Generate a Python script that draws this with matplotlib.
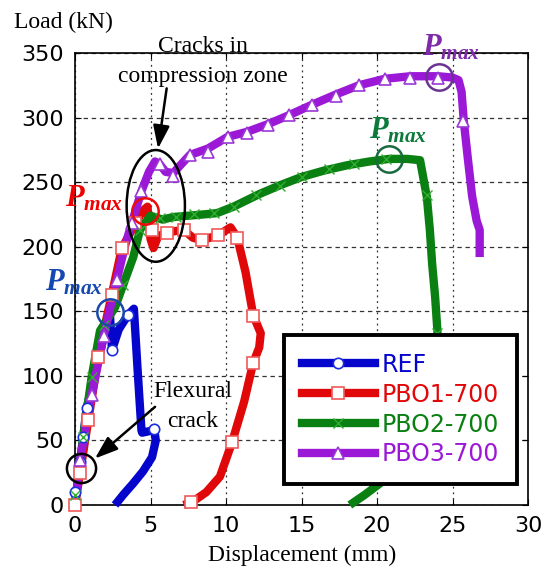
import matplotlib
matplotlib.use('Agg')
import matplotlib.pyplot as plt
from matplotlib.lines import Line2D
from matplotlib.patches import Ellipse

plt.rcParams['mathtext.fontset'] = 'custom'
plt.rcParams['mathtext.it'] = 'Liberation Serif:italic:bold'
plt.rcParams['mathtext.rm'] = 'Liberation Serif:bold'

# ---------------- data ----------------
series_names = ['REF', 'PBO1-700', 'PBO2-700', 'PBO3-700']

ref_x = [0, 0.33, 0.55, 0.77, 1.5, 2.0, 2.3, 2.45, 2.9, 3.5, 3.9, 4.15, 4.4, 4.45, 5.25, 5.35, 5.1, 4.5, 3.86, 3.2, 2.65]
ref_y = [0, 33, 53, 75, 110, 135, 150, 120, 136, 147, 152, 104, 58, 56, 58, 50, 37, 26, 16.8, 8, 0]
ref_mx = [0, 0.33, 0.55, 0.77, 2.43, 3.5, 5.2]
ref_my = [10, 33.5, 53, 75, 120, 147, 59]

pbo1_x = [0, 0.33, 0.88, 1.55, 2.0, 2.43, 3.1, 4.0, 4.5, 4.8, 5.0, 5.2, 5.5, 6.1, 6.6, 7.2, 7.8, 8.4, 9.5, 10.3, 10.75,
          11.3, 11.8, 12.3, 12.2, 11.8, 11.2, 10.4, 9.6, 8.7, 7.8, 7.2]
pbo1_y = [0, 24.5, 65.8, 114.8, 140, 162.5, 198.7, 218, 228, 231, 206, 199, 208, 211, 212, 213, 207, 205, 209, 215, 207,
          180, 147, 133, 122, 110, 80, 48.5, 22, 10, 2.6, 0]
pbo1_mx = [0, 0.3, 0.88, 1.55, 2.43, 3.1, 4.0, 5.1, 6.1, 7.2, 8.4, 9.5, 10.75, 11.8, 11.8, 10.4, 7.7]
pbo1_my = [0, 24.5, 65.8, 114.8, 162.5, 198.7, 218, 213, 211, 213, 205, 209, 207, 146.3, 110, 48.5, 2.6]

pbo2_x = [0, 0.55, 1.1, 1.66, 2.65, 3.3, 3.86, 4.3, 5.0, 5.8, 6.5, 7.5, 8.5, 9.4, 10.5, 12.25, 13.6, 15.0, 16.5, 18.0,
          19.5, 20.8, 22.0, 22.85, 23.3, 23.5, 23.65, 23.85, 24.0, 24.0, 23.7, 23.0, 22.0, 21.0, 20.2, 19.2, 18.2]
pbo2_y = [0, 53, 99, 135, 153, 174, 192, 213, 224, 221, 223, 224, 225, 226, 231, 241, 247.7, 254, 259, 263,
          266, 268, 268, 267, 238.6, 213, 187, 161, 135, 110, 85, 60, 40, 26, 16.8, 8, 0]
pbo2_mx = [0, 0.55, 1.1, 1.9, 3.2, 4.3, 5.6, 6.7, 7.9, 9.2, 10.5, 12.0, 13.6, 15.0, 16.8, 18.5, 20.6, 23.3, 24.0]
pbo2_my = [8, 53, 99, 139, 170, 213, 222, 223, 225, 226, 231, 240, 247, 254, 260, 264, 268, 240, 133]

pbo3_x = [0, 0.33, 1.1, 1.9, 2.76, 3.3, 3.75, 4.4, 4.9, 5.3, 5.6, 6.0, 6.5, 7.6, 8.8, 10.1, 11.4, 12.8, 14.2, 15.7,
          17.3, 18.8, 20.5, 22.2, 24.06, 25.0, 25.4, 25.6, 25.75, 26.0, 26.3, 26.6, 26.8, 26.8]
pbo3_y = [0, 34.8, 85, 131, 174, 200, 218, 243, 258, 266, 264, 258, 257, 271, 276, 285, 289, 295, 302, 310,
          318, 325, 330, 332, 332, 331, 329, 320, 297, 270, 239, 220, 213, 192]
pbo3_mx = [0.33, 1.1, 1.9, 2.76, 3.75, 4.4, 5.6, 6.5, 7.6, 8.8, 10.1, 11.4, 12.8, 14.2, 15.7, 17.3, 18.8, 20.5, 22.2,
           24.06, 25.7]
pbo3_my = [34.8, 85, 131, 174, 218, 243, 264, 255, 271, 273, 285, 288, 294, 302, 309.6, 317, 325, 330, 331, 331, 297]

pmax_x = [2.3, 4.64, 20.8, 24.1]
pmax_y = [149.6, 228, 267.6, 331.5]

x_ticks = [0, 5, 10, 15, 20, 25, 30]
y_ticks = [0, 50, 100, 150, 200, 250, 300, 350]

# ---------------- style ----------------
colors = ['#0505cc', '#e00808', '#0a7f12', '#9a18d6']
mec = ['#1a2ee0', '#f05a5a', '#2fae2f', '#9a38d6']
markers = ['o', 's', 'x', '^']
msizes = [7.5, 9, 7, 8.5]
pmax_text_col = ['#1548b0', '#f00000', '#0b7a3a', '#7e2aaa']
pmax_circ_col = ['#1a4aa8', '#ee0a0a', '#1a6a40', '#6a3590']

serif = 'Liberation Serif'
sans = 'DejaVu Sans'

fig = plt.figure(figsize=(5.5, 5.74), dpi=100)
ax = fig.add_axes([75 / 550, 69 / 574, 453 / 550, 452 / 574])
ax.set_xlim(0, 30)
ax.set_ylim(0, 350)

lines_x = [ref_x, pbo1_x, pbo2_x, pbo3_x]
lines_y = [ref_y, pbo1_y, pbo2_y, pbo3_y]
mk_x = [ref_mx, pbo1_mx, pbo2_mx, pbo3_mx]
mk_y = [ref_my, pbo1_my, pbo2_my, pbo3_my]

for i in range(4):
    ax.plot(lines_x[i], lines_y[i], color=colors[i], lw=6, solid_joinstyle='round', solid_capstyle='butt',
            zorder=3, clip_on=False)
for i in range(4):
    if markers[i] == 'x':
        ax.plot(mk_x[i], mk_y[i], ls='none', marker='x', ms=msizes[i], mec=mec[i], mew=1.0, zorder=4, clip_on=False)
    else:
        ax.plot(mk_x[i], mk_y[i], ls='none', marker=markers[i], ms=msizes[i], mfc='white', mec=mec[i], mew=1.2,
                zorder=4, clip_on=False)

# Pmax circles and labels
for i in range(4):
    ax.plot([pmax_x[i]], [pmax_y[i]], ls='none', marker='o', ms=19, mfc='none', mec=pmax_circ_col[i], mew=1.8,
            zorder=5, clip_on=False)
pmax_lab_pos = [(-2.0, 166), (-0.66, 231), (19.5, 284), (23.0, 348)]
for i in range(4):
    ax.text(pmax_lab_pos[i][0], pmax_lab_pos[i][1], r'$P_{max}$', color=pmax_text_col[i], fontsize=22,
            ha='left', va='baseline', zorder=6, clip_on=False)

# grid
ax.set_xticks(x_ticks)
ax.set_yticks(y_ticks)
ax.xaxis.grid(True, color='#333333', lw=0.9, ls=(0, (1.5, 3)))
ax.yaxis.grid(True, color='#333333', lw=0.9, ls=(0, (3.5, 3)))
ax.set_axisbelow(True)
ax.tick_params(direction='in', top=True, right=True, length=4, width=0.8, labelsize=16, pad=8)
for lab in ax.get_xticklabels() + ax.get_yticklabels():
    lab.set_family(sans)
for s in ax.spines.values():
    s.set_linewidth(1.2)
    s.set_zorder(2)

# annotations
ell = Ellipse((5.35, 231.6), width=3.86, height=86.5, fill=False, ec='black', lw=1.8, zorder=6)
ax.add_patch(ell)
ax.plot([0.41], [29], ls='none', marker='o', ms=21, mfc='none', mec='black', mew=1.8, zorder=6, clip_on=False)
ax.annotate('', xy=(5.5, 276), xytext=(6.07, 322.6),
            arrowprops=dict(arrowstyle='-|>,head_length=0.7,head_width=0.25', lw=1.8, color='black',
                            shrinkA=0, shrinkB=0, mutation_scale=20), zorder=6)
ax.annotate('', xy=(1.32, 36), xytext=(5.3, 76),
            arrowprops=dict(arrowstyle='-|>,head_length=0.7,head_width=0.25', lw=1.8, color='black',
                            shrinkA=0, shrinkB=0, mutation_scale=20), zorder=6)
ax.text(8.48, 350.9, 'Cracks in', family=serif, fontsize=17, ha='center', va='baseline', clip_on=False, zorder=6)
ax.text(8.48, 327.6, 'compression zone', family=serif, fontsize=17, ha='center', va='baseline', clip_on=False,
        zorder=6)
ax.text(7.8, 83.8, 'Flexural', family=serif, fontsize=17, ha='center', va='baseline', zorder=6)
ax.text(7.78, 60.6, 'crack', family=serif, fontsize=17, ha='center', va='baseline', zorder=6)

# axis labels
fig.text(14 / 550, 1 - 28 / 574, 'Load (kN)', family=serif, fontsize=17, ha='left', va='baseline')
fig.text(301.7 / 550, 1 - 561 / 574, 'Displacement (mm)', family=serif, fontsize=17, ha='center', va='baseline')

# legend
handles = []
for i in range(4):
    if markers[i] == 'x':
        h = Line2D([], [], color=colors[i], lw=6, marker='x', ms=msizes[i], mec=mec[i], mew=1.0)
    else:
        h = Line2D([], [], color=colors[i], lw=6, marker=markers[i], ms=msizes[i], mfc='white', mec=mec[i], mew=1.2)
    handles.append(h)
leg = ax.legend(handles, series_names, loc='upper left', bbox_to_anchor=((284 - 75) / 453, (505 - 335) / 452),
                borderaxespad=0, frameon=True, fancybox=False, framealpha=1.0, handlelength=3.1,
                handletextpad=0.3, labelspacing=0.25, borderpad=0.75,
                prop={'family': sans, 'size': 17}, labelcolor='linecolor')
leg.get_frame().set_edgecolor('black')
leg.get_frame().set_linewidth(2.8)
leg.set_zorder(10)

fig.savefig('out.png', dpi=100)
